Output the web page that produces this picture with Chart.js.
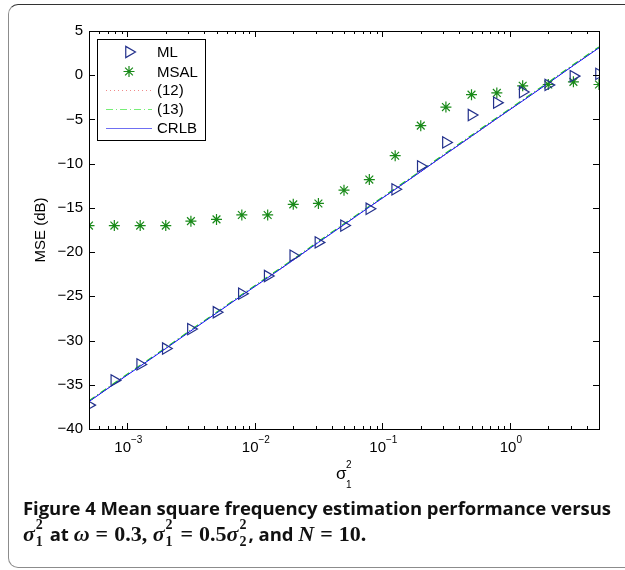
<!DOCTYPE html>
<html>
<head>
<meta charset="utf-8">
<script src="https://cdn.jsdelivr.net/npm/chart.js@4.4.0/dist/chart.umd.min.js"></script>
<style>
  body { margin: 0; background: #fff; }
  .page { position: relative; width: 625px; height: 570px; overflow: hidden; }
  .frame {
    position: absolute; left: 8px; top: 4px; width: 650px; height: 564px;
    border: 1px solid #8c8c8c; border-top-color: #333; border-radius: 10px; box-sizing: border-box;
  }
  #chart { position: absolute; left: 0; top: 0; }
  .cap {
    position: absolute; left: 23px; white-space: nowrap; line-height: 20px;
    font-family: "Open Sans", sans-serif; font-weight: 700; font-size: 18.5px; color: #111;
  }
  .m { font-family: "Liberation Serif", serif; font-weight: 700; font-size: 22px; }
  .i { font-style: italic; }
  .eq { margin: 0 6px; }
  .ss { position: relative; display: inline-block; width: 10px; height: 0; }
  .ss span { position: absolute; left: 1px; font-size: 14px; line-height: 14px; }
  .ss .sup { bottom: 9px; }
  .ss .sub { bottom: -8px; }
</style>
</head>
<body>
<div class="page">
  <div class="frame"></div>
  <canvas id="chart" width="625" height="500"></canvas>
  <div class="cap" id="cap1" style="top:498px">Figure 4 Mean square frequency estimation performance versus</div>
  <div class="cap" id="cap2" style="top:524px"><span class="m"><span class="i">σ</span><span class="ss"><span class="sup">2</span><span class="sub">1</span></span></span> at <span class="m"><span class="i">ω</span><span class="eq">=</span>0.3, <span class="i">σ</span><span class="ss"><span class="sup">2</span><span class="sub">1</span></span><span class="eq">=</span>0.5<span class="i">σ</span><span class="ss"><span class="sup">2</span><span class="sub">2</span></span></span>, and <span class="m"><span class="i">N</span><span class="eq">=</span>10.</span></div>
</div>
<script>
// sigma_1^2 values (log spaced, 5e-4 .. 5)
const sigma2 = [0.0005, 0.00079, 0.00126, 0.002, 0.00315, 0.005, 0.0079, 0.0126, 0.02, 0.0315,
  0.05, 0.079, 0.126, 0.2, 0.315, 0.5, 0.79, 1.26, 2, 3.15, 5];

// MSE in dB
const mlMse = [-37.3, -34.5, -32.7, -30.9, -28.7, -26.8, -24.7, -22.7, -20.4, -18.9,
  -17.0, -15.1, -12.9, -10.3, -7.6, -4.5, -3.1, -1.9, -1.1, -0.1, 0.15];
const msalMse = [-17.0, -17.0, -17.0, -17.0, -16.5, -16.3, -15.8, -15.8, -14.6, -14.5,
  -13.0, -11.8, -9.1, -5.7, -3.6, -2.2, -2.0, -1.2, -1.05, -0.75, -1.05];
const eq12 = [-36.9, -34.9, -32.9, -30.9, -28.9, -26.9, -24.9, -22.9, -20.9, -18.9,
  -16.9, -14.9, -12.9, -10.9, -8.9, -6.9, -4.9, -2.9, -0.9, 1.1, 3.1];
const eq13 = [-36.8, -34.8, -32.8, -30.8, -28.8, -26.8, -24.8, -22.8, -20.8, -18.8,
  -16.8, -14.8, -12.8, -10.8, -8.8, -6.8, -4.8, -2.8, -0.8, 1.2, 3.2];
const crlb = [-36.9, -34.9, -32.9, -30.9, -28.9, -26.9, -24.9, -22.9, -20.9, -18.9,
  -16.9, -14.9, -12.9, -10.9, -8.9, -6.9, -4.9, -2.9, -0.9, 1.1, 3.1];

const seriesNames = ['ML', 'MSAL', '(12)', '(13)', 'CRLB'];
const xMajorTicks = [0.001, 0.01, 0.1, 1];
const xTickExponents = ['−3', '−2', '−1', '0'];

const FONT = '"Liberation Sans", Arial, sans-serif';

function toPoints(ys) {
  return sigma2.map((x, i) => ({ x: x, y: ys[i] }));
}

// stretch a caption line to the width it has in the figure
function fitCaption(id, target) {
  const el = document.getElementById(id);
  const n = el.textContent.length - 1;
  const w = el.getBoundingClientRect().width;
  el.style.letterSpacing = ((target - w) / n).toFixed(2) + 'px';
}
fitCaption('cap1', 588);

// box, inward ticks, x labels, x title and legend (matlab look)
const matlabAxes = {
  id: 'matlabAxes',
  afterDraw(chart) {
    const ctx = chart.ctx;
    const a = chart.chartArea;
    const xs = chart.scales.x;
    const ys = chart.scales.y;
    ctx.save();
    ctx.strokeStyle = '#000';
    ctx.lineWidth = 1;

    // y ticks, both sides
    for (let v = -40; v <= 5; v += 5) {
      const py = Math.round(ys.getPixelForValue(v)) + 0.5;
      ctx.beginPath();
      ctx.moveTo(a.left, py); ctx.lineTo(a.left + 6, py);
      ctx.moveTo(a.right, py); ctx.lineTo(a.right - 6, py);
      ctx.stroke();
    }
    // x ticks, major and minor
    for (let e = -4; e <= 0; e++) {
      for (let m = 1; m <= 9; m++) {
        const v = m * Math.pow(10, e);
        if (v < xs.min * 0.999 || v > xs.max * 1.001) continue;
        const px = Math.round(xs.getPixelForValue(v)) + 0.5;
        const len = m === 1 ? 6 : 3;
        ctx.beginPath();
        ctx.moveTo(px, a.bottom); ctx.lineTo(px, a.bottom - len);
        ctx.moveTo(px, a.top); ctx.lineTo(px, a.top + len);
        ctx.stroke();
      }
    }
    ctx.strokeRect(Math.round(a.left) + 0.5, Math.round(a.top) + 0.5,
      Math.round(a.right - a.left), Math.round(a.bottom - a.top));

    // x tick labels 10^k
    ctx.fillStyle = '#000';
    ctx.textBaseline = 'alphabetic';
    ctx.textAlign = 'left';
    xMajorTicks.forEach((v, i) => {
      const px = xs.getPixelForValue(v);
      ctx.font = '15px ' + FONT;
      const w1 = ctx.measureText('10').width;
      ctx.font = '10px ' + FONT;
      const w2 = ctx.measureText(xTickExponents[i]).width;
      const x0 = px - (w1 + w2) / 2 + 1;
      ctx.font = '15px ' + FONT;
      ctx.fillText('10', x0, 452);
      ctx.font = '10px ' + FONT;
      ctx.fillText(xTickExponents[i], x0 + w1, 443);
    });

    // x title sigma_1^2
    const cx = (a.left + a.right) / 2;
    ctx.font = '17px ' + FONT;
    ctx.fillText('σ', cx - 8, 479);
    ctx.font = '10px ' + FONT;
    ctx.fillText('2', cx + 2, 468);
    ctx.fillText('1', cx + 2, 488);

    // legend
    const lx = 97, ly = 39, lw = 108, lh = 101;
    ctx.fillStyle = '#fff';
    ctx.fillRect(lx, ly, lw, lh);
    ctx.strokeRect(lx + 0.5, ly + 0.5, lw, lh);
    const rows = [52, 71.5, 90, 109, 128];
    chart.data.datasets.forEach((ds, i) => {
      const y = rows[i];
      if (ds.showLine) {
        ctx.save();
        ctx.strokeStyle = ds.legendColor;
        ctx.lineWidth = 1.2;
        ctx.setLineDash(ds.borderDash || []);
        ctx.beginPath();
        ctx.moveTo(106, y + 0.5); ctx.lineTo(152, y + 0.5);
        ctx.stroke();
        ctx.restore();
      } else {
        ctx.save();
        ctx.strokeStyle = ds.borderColor;
        ctx.lineWidth = ds.borderWidth;
        ctx.fillStyle = 'rgba(0,0,0,0)';
        Chart.helpers.drawPoint(ctx, {
          pointStyle: ds.pointStyle, radius: ds.pointRadius,
          rotation: ds.rotation || 0, borderWidth: ds.borderWidth
        }, 129, y);
        ctx.restore();
      }
      ctx.fillStyle = '#000';
      ctx.font = '15px ' + FONT;
      ctx.textAlign = 'left';
      ctx.textBaseline = 'middle';
      ctx.fillText(ds.label, 157, y + 1);
    });
    ctx.restore();
  }
};

const ctx = document.getElementById('chart').getContext('2d');
new Chart(ctx, {
  type: 'scatter',
  data: {
    datasets: [
      {
        label: seriesNames[0], data: toPoints(mlMse), showLine: false,
        pointStyle: 'triangle', rotation: 90, pointRadius: 6.5, borderWidth: 1.2,
        borderColor: '#23318c', backgroundColor: 'rgba(0,0,0,0)', order: 0
      },
      {
        label: seriesNames[1], data: toPoints(msalMse), showLine: false,
        pointStyle: 'star', pointRadius: 5.5, borderWidth: 1.2,
        borderColor: '#198a19', backgroundColor: '#198a19', order: 1
      },
      {
        label: seriesNames[2], data: toPoints(eq12), showLine: true, pointRadius: 0,
        borderColor: '#e00000', legendColor: '#f08a8a', borderWidth: 1, borderDash: [1, 3], order: 4
      },
      {
        label: seriesNames[3], data: toPoints(eq13), showLine: true, pointRadius: 0,
        borderColor: '#22cc22', legendColor: '#77ee77', borderWidth: 1.2, borderDash: [7, 3, 1, 3], order: 3
      },
      {
        label: seriesNames[4], data: toPoints(crlb), showLine: true, pointRadius: 0,
        borderColor: '#1010ff', legendColor: '#6f6ff2', borderWidth: 1, order: 2
      }
    ]
  },
  options: {
    responsive: false,
    animation: false,
    layout: { padding: { left: 0, top: 31, right: 26, bottom: 0 } },
    scales: {
      x: {
        type: 'logarithmic', min: 0.0005, max: 5,
        ticks: { display: false },
        grid: { display: false }, border: { display: false },
        afterFit(s) { s.height = 71; }
      },
      y: {
        type: 'linear', min: -40, max: 5,
        ticks: {
          stepSize: 5, padding: 6, color: '#000',
          font: { family: FONT, size: 15 },
          callback: v => String(v).replace('-', '−')
        },
        grid: { display: false, drawTicks: false }, border: { display: false },
        title: {
          display: true, text: 'MSE (dB)', color: '#000',
          font: { family: FONT, size: 15 }, padding: { top: 32, bottom: 0 }
        },
        afterFit(s) { s.width = 89; }
      }
    },
    plugins: {
      legend: { display: false },
      tooltip: { enabled: false }
    }
  },
  plugins: [matlabAxes]
});
</script>
</body>
</html>
